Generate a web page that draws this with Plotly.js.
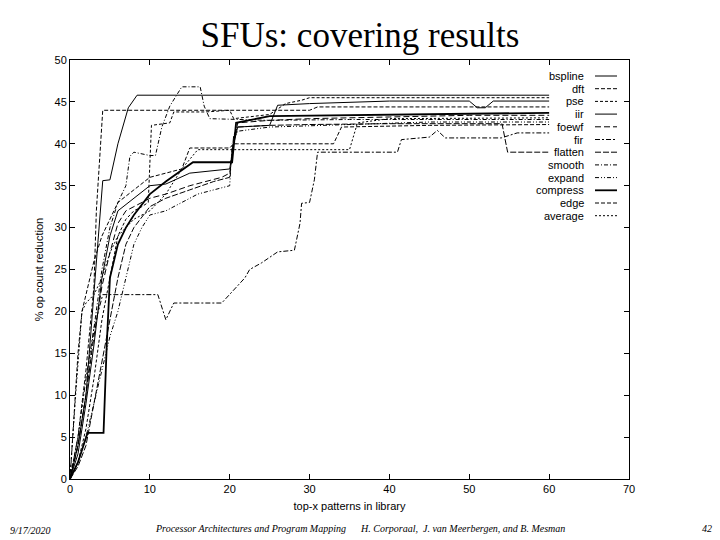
<!DOCTYPE html>
<html>
<head>
<meta charset="utf-8">
<script src="https://cdn.plot.ly/plotly-3.0.1.min.js"></script>
<style>
html,body{margin:0;padding:0;background:#fff;}
#chart{width:720px;height:540px;}
</style>
</head>
<body>
<div id="chart"></div>
<script>
// ---- data ----
var seriesNames = ["bspline","dft","pse","iir","foewf","fir","flatten","smooth","expand","compress","edge","average"];

var x_bspline = [0,1,2,3,4.1,5,6,7.3,8.4,60];
var y_bspline = [0,4,10,22,35.6,35.7,40,44.3,45.8,45.8];

var x_dft = [0,1,2,3,3.3,4.1,30,31,60];
var y_dft = [0,5,13,23,32,44,44,44.4,44.4];

var x_pse = [0,1,2,3,4,5,6,7,8,9,9.8,10.2,12.5,13,17,20,20.5,25,27,29,30,60];
var y_pse = [0,2,6,12,19,24,29,31,32,32.5,33,42.2,42.5,43.8,43.8,44,43,43.5,44.8,45.2,45.5,45.5];

var x_iir = [0,1,2,3,4,5,6,8,10,12,15,20,20.5,21,25,26,30,40,50,51,52,53,60];
var y_iir = [0,3,9,16,24,29,32,33.5,35,35.2,36.5,37,40,42,42.2,44.6,44.8,45.1,45.1,44.3,44.3,45.1,45.1];

var x_foewf = [0,1,2,3,4,5,6,7,8,10,12,15,19,20,20.5,21,25,30,40,50,60];
var y_foewf = [0,4,10,17,23,27,30.5,32,32.5,33.5,34,35,36,36.5,40,42.5,42.8,43,43.2,43.4,43.4];

var x_fir = [0,1,2,3,4.1,11,12,13,19,20,21.9,22.5,24,26,28.1,28.8,29,30,30.6,31,41,41.5,45,46,47,54,56,60];
var y_fir = [0,5,12,18,22,22,19,21,21,22,24,25,25.8,27.1,27.3,30.5,32.9,33,35.7,39,39,40.5,40.8,41.6,40.7,40.7,41.3,41.3];

var x_flatten = [0,1,2,3,4,5,6,7,8,10,12,15,18,20,20.5,21,25,30,40,54.1,54.8,60];
var y_flatten = [0,1.5,4,9,14,19,24,28,30,32.5,33.5,34.5,35.5,36,41,42,42.2,42.3,42.4,42.4,39.0,39.0];

var x_smooth = [0,1,2,3,4,5,6,7,7.5,8,10,10.7,11.5,12.5,14,16.3,16.8,17.5,25,35,45,60];
var y_smooth = [0,4,10,18,25,30,33,35,38.5,39,38.6,38.6,42,44.5,46.8,46.8,44.5,43,42.8,42.9,42.9,42.9];

var x_expand = [0,1,2,3,4,5,6,7,8,9,10,12,14,16,18,20,20.3,21,25,35,45,60];
var y_expand = [0,2,5,9,13,17,20,24,28,30,31.5,32,33,34,34.5,35,40,41.5,42,42.3,42.6,42.6];

var x_compress = [0,1,2.2,4.2,4.6,5,6,7,8,10,12,15.4,20.3,20.8,25,40,60];
var y_compress = [0,2,5.5,5.5,16,24,28,30,31.5,34,35.5,37.8,37.8,42.5,43.3,43.5,43.7];

var x_edge = [0,0.5,1,1.5,2,3,4,5,6,8,10,14,15,20,20.5,21,33,34,45,60];
var y_edge = [0,8,15,20,22,26,29,31,33,34.5,36,37,39.5,39.5,40,40,40,42,42.2,42.3];

var x_average = [0,0.7,1.5,2,3,4,5,6,8,10,12,14,16,35,36,40,60];
var y_average = [0,10,20,21,22,24,27,29,31,32,34,37,39.3,39.3,42.5,43,43.1];

var xTickVals = [0,10,20,30,40,50,60,70];
var yTickVals = [0,5,10,15,20,25,30,35,40,45,50];

// ---- styles ----
var xs = [x_bspline,x_dft,x_pse,x_iir,x_foewf,x_fir,x_flatten,x_smooth,x_expand,x_compress,x_edge,x_average];
var ys = [y_bspline,y_dft,y_pse,y_iir,y_foewf,y_fir,y_flatten,y_smooth,y_expand,y_compress,y_edge,y_average];
var dashes = ["solid","4px,2px","3px,2px","solid","6px,3px","5px,2px,2px,2px","6px,2px","4px,2px,1px,2px","4px,2px,1px,2px,1px,2px","solid","4px,2px","2px,2px"];
var widths = [1,1,1,1,1,1,1,1,1,1.8,1,1];

var traces = seriesNames.map(function(n,i){
  return {x: xs[i], y: ys[i], name: n, type: 'scatter', mode: 'lines',
    line: {color: '#000', width: widths[i], dash: dashes[i]}, showlegend: false, hoverinfo: 'skip'};
});

var L = 70, R = 629, T = 60, B = 479;
function px2x(p){ return (p - L) / (R - L); }
function py2y(p){ return (B - p) / (B - T); }

var annotations = [];
var shapes = [];
seriesNames.forEach(function(n,i){
  var yy = 76 + 12.7*i;
  annotations.push({xref:'paper', yref:'paper', x: px2x(586), y: py2y(yy), xanchor:'right', yanchor:'middle',
    text: n, showarrow:false, font:{family:'Liberation Sans, Arial, sans-serif', size:11, color:'#000'}});
  shapes.push({type:'line', xref:'paper', yref:'paper', x0: px2x(595), x1: px2x(617), y0: py2y(yy), y1: py2y(yy),
    line:{color:'#000', width: widths[i], dash: dashes[i]}});
});

var footFont = {family:'Liberation Serif, Times New Roman, serif', size:10, color:'#000', style:'italic'};
annotations.push({xref:'paper', yref:'paper', x: px2x(8), y: py2y(530), xanchor:'left', yanchor:'middle', text:'9/17/2020', showarrow:false, font: footFont});
annotations.push({xref:'paper', yref:'paper', x: px2x(250), y: py2y(528), xanchor:'center', yanchor:'middle', text:'Processor Architectures and Program Mapping', showarrow:false, font: footFont});
annotations.push({xref:'paper', yref:'paper', x: px2x(462), y: py2y(528), xanchor:'center', yanchor:'middle', text:'H. Corporaal,  J. van Meerbergen, and B. Mesman', showarrow:false, font: footFont});
annotations.push({xref:'paper', yref:'paper', x: px2x(714), y: py2y(528), xanchor:'right', yanchor:'middle', text:'42', showarrow:false, font: footFont});

var axFont = {family:'Liberation Sans, Arial, sans-serif', size:11, color:'#000'};

var layout = {
  width: 720, height: 540,
  margin: {l: L, r: 720 - R, t: T, b: 540 - B, pad: 0},
  paper_bgcolor: '#fff', plot_bgcolor: '#fff',
  showlegend: false,
  title: {text: 'SFUs: covering results', x: 0.5, xref: 'container', xanchor: 'center',
          y: 1 - 35/540, yref: 'container', yanchor: 'middle',
          font: {family: 'Liberation Serif, Times New Roman, serif', size: 35, color: '#000'}},
  xaxis: {range: [0,70], tickvals: xTickVals, ticks: 'inside', ticklen: 5, tickcolor: '#000',
          showline: true, linecolor: '#000', linewidth: 1, mirror: 'ticks', showgrid: false, zeroline: false,
          tickfont: axFont, fixedrange: true,
          title: {text: 'top-x patterns in library', font: axFont, standoff: 8}},
  yaxis: {range: [0,50], tickvals: yTickVals, ticks: 'inside', ticklen: 5, tickcolor: '#000',
          showline: true, linecolor: '#000', linewidth: 1, mirror: 'ticks', showgrid: false, zeroline: false,
          tickfont: axFont, fixedrange: true,
          title: {text: '% op count reduction', font: axFont, standoff: 8}},
  annotations: annotations,
  shapes: shapes
};

Plotly.newPlot('chart', traces, layout, {staticPlot: true, displayModeBar: false});
</script>
</body>
</html>
